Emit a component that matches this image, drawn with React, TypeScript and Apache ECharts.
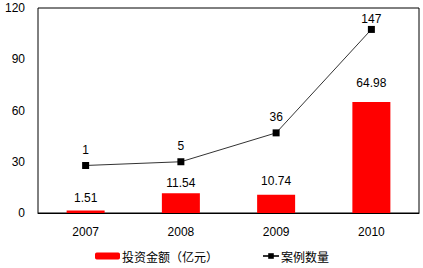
import React, { useEffect, useRef } from "react";
import * as echarts from "echarts";

const categories = ["2007", "2008", "2009", "2010"];
const investment = [1.51, 11.54, 10.74, 64.98];
const cases = [1, 5, 36, 147];
const yTicks = [0, 30, 60, 90, 120];

export default function App() {
  const ref = useRef<HTMLDivElement>(null);
  useEffect(() => {
    document.body.style.margin = "0";
    const chart = echarts.init(ref.current!, undefined, { renderer: "svg" });
    const font = "Arial, 'Liberation Sans', 'Noto Sans CJK SC', sans-serif";
    const barDist = [6, 4, 8, 13];
    const lineDist = [6, 6, 6, 1];
    chart.setOption({
      animation: false,
      textStyle: { fontFamily: font },
      grid: {
        left: 38,
        top: 8,
        right: 4,
        bottom: 55,
        show: true,
        borderColor: "#000",
        borderWidth: 1,
        backgroundColor: "#fff",
      },
      legend: [
        {
          data: ["投资金额（亿元）"],
          left: 95,
          top: 250,
          padding: 0,
          itemWidth: 25,
          itemHeight: 7,
          textStyle: { fontSize: 12, color: "#000", fontFamily: "'Noto Sans CJK SC', sans-serif", padding: [0, 0, 0, -3] },
        },
        {
          data: ["案例数量"],
          left: 262,
          top: 250,
          padding: 0,
          itemWidth: 16,
          itemHeight: 7,
          textStyle: { fontSize: 12, color: "#000", fontFamily: "'Noto Sans CJK SC', sans-serif", padding: [0, 0, 0, -3] },
        },
      ],
      xAxis: {
        type: "category",
        data: categories,
        axisLine: { show: true, lineStyle: { color: "#000", width: 1 } },
        axisTick: { show: false },
        axisLabel: { color: "#000", fontSize: 12, margin: 13, fontFamily: font },
      },
      yAxis: [
        {
          type: "value",
          min: yTicks[0],
          max: yTicks[yTicks.length - 1],
          interval: 30,
          axisLine: { show: false },
          axisTick: { show: false },
          splitLine: { show: false },
          axisLabel: { color: "#000", fontSize: 12, margin: 13, fontFamily: font },
        },
        {
          type: "value",
          min: -50,
          max: 170,
          show: false,
          splitLine: { show: false },
        },
      ],
      series: [
        {
          name: "投资金额（亿元）",
          type: "bar",
          data: investment.map((v, i) => ({ value: v, label: { distance: barDist[i] } })),
          barWidth: 38,
          itemStyle: { color: "#ff0000" },
          label: {
            show: true,
            position: "top",
            color: "#000",
            fontSize: 12,
            fontFamily: font,
            formatter: (p: any) => Number(p.value).toFixed(2),
          },
        },
        {
          name: "案例数量",
          type: "line",
          yAxisIndex: 1,
          data: cases.map((v, i) => ({ value: v, label: { distance: lineDist[i] } })),
          symbol: "rect",
          symbolSize: 7,
          lineStyle: { color: "#333", width: 1 },
          itemStyle: { color: "#000" },
          label: {
            show: true,
            position: "top",
            color: "#000",
            fontSize: 12,
            fontFamily: font,
          },
        },
      ],
    });
    return () => chart.dispose();
  }, []);
  return <div ref={ref} style={{ width: 423, height: 268 }} />;
}
